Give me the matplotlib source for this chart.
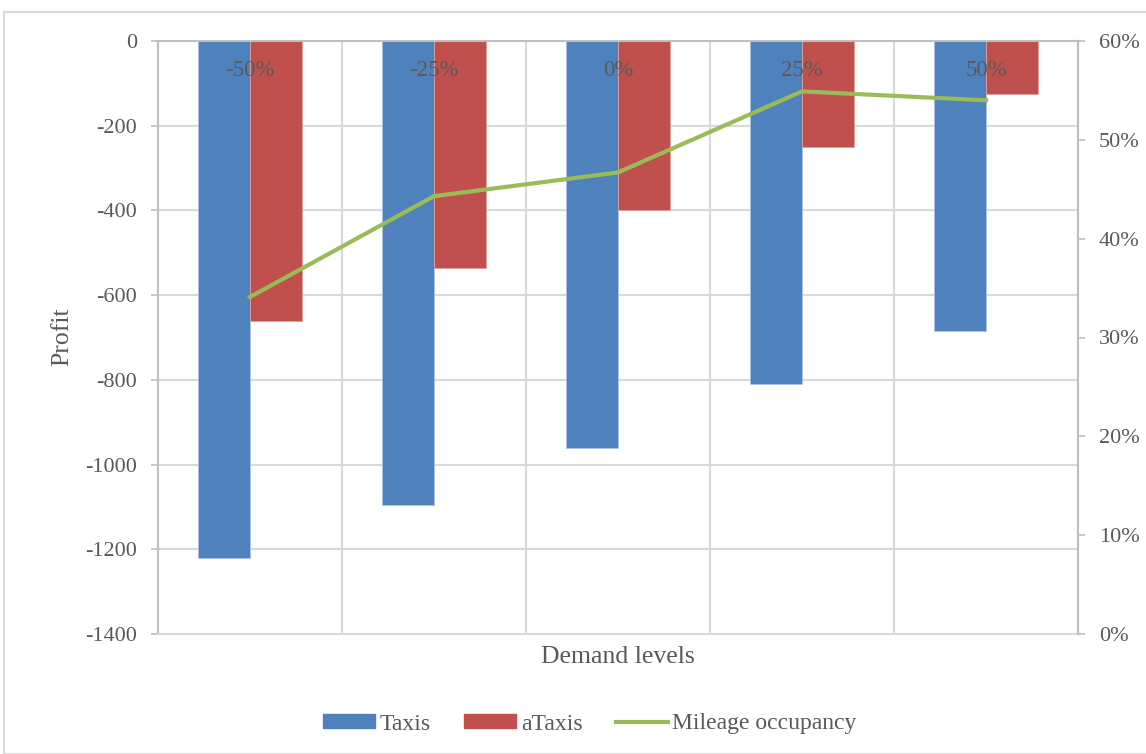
import matplotlib.pyplot as plt
import matplotlib.patches as mpatches
from matplotlib.lines import Line2D
import numpy as np

plt.rcParams['font.family'] = ['Liberation Serif', 'DejaVu Serif']
plt.rcParams['axes.unicode_minus'] = False

levels = ['-50%', '-25%', '0%', '25%', '50%']
taxis = [-1220, -1095, -960, -810, -685]
ataxis = [-660, -535, -400, -250, -125]
occupancy = [0.341, 0.443, 0.467, 0.549, 0.540]

blue = '#4f81bd'
red = '#c0504d'
green = '#9bbb59'
grey_txt = '#595959'
grid_c = '#d9d9d9'

fig = plt.figure(figsize=(11.46, 7.54), dpi=100)
ax = fig.add_axes([158/1146, 1 - 634/754, 920/1146, 593/754])

x = np.arange(len(levels))
w = 52/184
ax.bar(x - w/2, taxis, w, color=blue, edgecolor='#a9c4e6', linewidth=0.6, zorder=2)
ax.bar(x + w/2, ataxis, w, color=red, edgecolor='#e0a09e', linewidth=0.6, zorder=2)

ax.set_xlim(-0.5, len(levels) - 0.5)
ax.set_ylim(-1400, 0)
ax.set_yticks(np.arange(-1400, 1, 200))
ax.set_xticks([])
ax.set_axisbelow(True)
ax.grid(axis='y', color=grid_c, lw=1.5, zorder=0)
for b in np.arange(0.5, len(levels) - 1, 1):
    ax.axvline(b, color=grid_c, lw=1.5, zorder=0)

for s in ['left', 'top', 'right']:
    ax.spines[s].set_color('#bfbfbf')
    ax.spines[s].set_linewidth(1.5)
ax.spines['bottom'].set_color(grid_c)
ax.spines['bottom'].set_linewidth(1.5)
ax.tick_params(axis='y', length=5, width=1.2, color='#bfbfbf', labelcolor=grey_txt,
               labelsize=16, pad=10)

# category labels sit just under the axis at 0
for i, lab in enumerate(levels):
    ax.text(i, -70, lab, ha='center', va='center', fontsize=16.5, color=grey_txt, zorder=3)

ax2 = ax.twinx()
ax2.plot(x, occupancy, color=green, lw=3, zorder=4)
ax2.set_ylim(0, 0.6)
ax2.set_yticks(np.arange(0, 0.61, 0.1))
ax2.set_yticklabels([f'{int(round(v*100))}%' for v in np.arange(0, 0.61, 0.1)])
ax2.tick_params(axis='y', length=5, width=1.2, color='#bfbfbf', labelcolor=grey_txt,
                labelsize=16, pad=10)
for s in ['left', 'top', 'bottom']:
    ax2.spines[s].set_visible(False)
ax2.spines['right'].set_color('#bfbfbf')
ax2.spines['right'].set_linewidth(1.5)

fig.text(62/1146, 1 - 337/754, 'Profit', rotation=90, ha='center', va='center',
         fontsize=18.5, color=grey_txt)
fig.text(618/1146, 1 - 657/754, 'Demand levels', ha='center', va='center',
         fontsize=18.5, color=grey_txt)

handles = [mpatches.Patch(color=blue, label='Taxis'),
           mpatches.Patch(color=red, label='aTaxis'),
           Line2D([], [], color=green, lw=3, label='Mileage occupancy')]
fig.legend(handles=handles, loc='center', bbox_to_anchor=(590/1146, 1 - 724/754), ncol=3,
           frameon=False, fontsize=17, handlelength=2.2, handleheight=0.55,
           columnspacing=1.4, handletextpad=0.2, labelcolor=grey_txt)

fig.patches.append(mpatches.Rectangle((4/1146, 0), 1.1, 1 - 12/754, transform=fig.transFigure,
                                      fill=False, edgecolor='#d9d9d9', lw=1.5))

fig.savefig('out.png', dpi=100)
